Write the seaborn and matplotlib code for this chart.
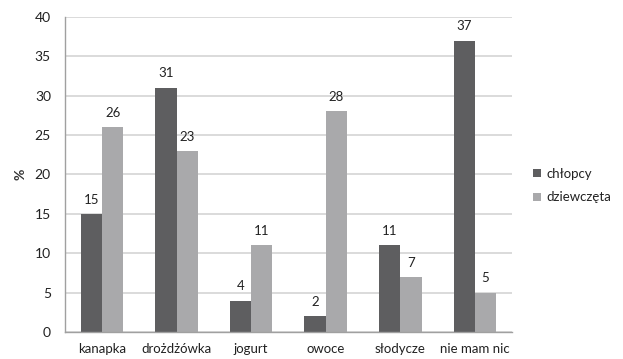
import matplotlib
matplotlib.use("Agg")
import matplotlib.pyplot as plt
import seaborn as sns
import pandas as pd

categories = ["kanapka", "drożdżówka", "jogurt", "owoce", "słodycze", "nie mam nic"]
chlopcy = [15, 31, 4, 2, 11, 37]
dziewczeta = [26, 23, 11, 28, 7, 5]
series_names = ["chłopcy", "dziewczęta"]
y_ticks = [0, 5, 10, 15, 20, 25, 30, 35, 40]

sns.set_theme(style="white")
plt.rcParams["font.family"] = ["Lato", "DejaVu Sans"]

df = pd.DataFrame({
    "kategoria": categories * 2,
    "wartosc": chlopcy + dziewczeta,
    "plec": [series_names[0]] * len(categories) + [series_names[1]] * len(categories),
})

fig = plt.figure(figsize=(6.23, 3.59), dpi=100)
ax = fig.add_axes([0.104, 0.075, 0.718, 0.878])

palette = {series_names[0]: "#5e5e60", series_names[1]: "#a9a9ab"}
sns.barplot(data=df, x="kategoria", y="wartosc", hue="plec", order=categories,
            hue_order=series_names, palette=palette, width=0.57, gap=0,
            saturation=1, ax=ax, edgecolor="none", linewidth=0)

for cont in ax.containers:
    ax.bar_label(cont, padding=6, fontsize=9.5, color="#222222")

ax.set_ylim(0, 40)
ax.set_yticks(y_ticks)
ax.set_xlim(-0.5, len(categories) - 0.5)
ax.yaxis.grid(True, color="#d4d4d4", linewidth=1.2)
ax.set_axisbelow(True)

for s in ["top", "right"]:
    ax.spines[s].set_visible(False)
for s in ["left", "bottom"]:
    ax.spines[s].set_color("#a0a0a0")
    ax.spines[s].set_linewidth(1)

ax.tick_params(axis="y", length=4, color="#a0a0a0", labelsize=10, labelcolor="#222222", pad=6)
ax.set_xticks(range(len(categories)))
ax.set_xticklabels(categories)
ax.tick_params(axis="x", length=0, labelsize=9.5, labelcolor="#222222", pad=8)
# separator ticks between category groups
ax.set_xticks([i - 0.5 for i in range(len(categories) + 1)], minor=True)
ax.tick_params(axis="x", which="minor", length=5, color="#a0a0a0", width=1)

ax.set_xlabel("")
ax.set_ylabel("%", fontsize=10, fontweight="bold", color="#333333", labelpad=6)

leg = ax.legend(loc="center left", bbox_to_anchor=(1.02, 0.465), frameon=False,
                fontsize=9.5, handlelength=0.6, handleheight=0.6, handletextpad=0.4,
                labelspacing=0.9)
for t in leg.get_texts():
    t.set_color("#222222")

fig.savefig("out.png", dpi=100, facecolor="white")
